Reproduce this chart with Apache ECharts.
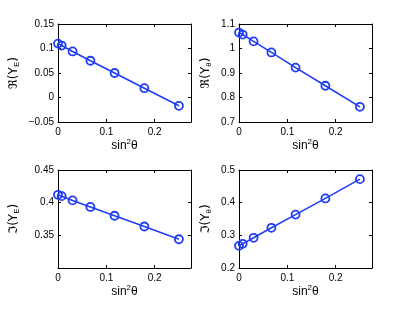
<!DOCTYPE html>
<html><head><meta charset="utf-8">
<script src="https://cdn.jsdelivr.net/npm/echarts@6/dist/echarts.min.js"></script>
<style>html,body{margin:0;padding:0;background:#fff}#c{width:411px;height:309px}</style>
</head><body><div id="c"></div>
<script>
var sin2theta = [0, 0.0076, 0.0302, 0.0670, 0.1170, 0.1786, 0.25];
var reYE = [0.110, 0.106, 0.094, 0.075, 0.050, 0.019, -0.017];
var reYth = [1.065, 1.057, 1.029, 0.984, 0.922, 0.848, 0.762];
var imYE = [0.412, 0.410, 0.4035, 0.3935, 0.380, 0.3635, 0.344];
var imYth = [0.268, 0.274, 0.2925, 0.323, 0.3635, 0.413, 0.472];
var xTicks = [0, 0.1, 0.2];

var panels = [
  {data: reYE, left: 58, top: 24, ymin: -0.05, ymax: 0.15, step: 0.05, pre: 'ℜ', sub: 'E', hide: []},
  {data: reYth, left: 239, top: 24, ymin: 0.7, ymax: 1.1, step: 0.1, pre: 'ℜ', sub: 'θ', hide: []},
  {data: imYE, left: 58, top: 170, ymin: 0.3, ymax: 0.45, step: 0.05, pre: 'ℑ', sub: 'E', hide: [0.3]},
  {data: imYth, left: 239, top: 170, ymin: 0.2, ymax: 0.5, step: 0.1, pre: 'ℑ', sub: 'θ', hide: []}
];
var FONT = 'Liberation Sans';
var BLUE = '#1f3df5';
function fmt(v) {
  var r = Math.round(v * 1000) / 1000;
  return String(r).replace('-', '\u2212');
}
var grids = [], xAxes = [], yAxes = [], series = [];
panels.forEach(function (p, i) {
  grids.push({left: p.left, top: p.top, width: 133, height: 98});
  var baseLine = {show: true, onZero: false, lineStyle: {color: '#000', width: 1}};
  var tick = {show: true, inside: true, length: 3, lineStyle: {color: '#000'}};
  xAxes.push({
    gridIndex: i, type: 'value', min: 0, max: 0.275, interval: 0.1, position: 'bottom',
    axisLine: baseLine, axisTick: tick, splitLine: {show: false},
    axisLabel: {color: '#000', fontFamily: FONT, fontSize: 10, margin: 5,
      formatter: function (v) { return xTicks.some(function (t) { return Math.abs(t - v) < 1e-9; }) ? fmt(v) : ''; }},
    name: '{a|sin}{s|2}{a|θ}', nameLocation: 'middle', nameGap: 14,
    nameTextStyle: {rich: {a: {fontFamily: FONT, fontSize: 12, color: '#000', verticalAlign: 'bottom'},
      s: {fontFamily: FONT, fontSize: 8, color: '#000', verticalAlign: 'top', padding: [0, 0, 6, 0]}}}
  });
  xAxes.push({
    gridIndex: i, type: 'value', min: 0, max: 0.275, interval: 0.1, position: 'top',
    axisLine: baseLine, axisTick: tick, splitLine: {show: false}, axisLabel: {show: false}
  });
  yAxes.push({
    gridIndex: i, type: 'value', min: p.ymin, max: p.ymax, interval: p.step, position: 'left',
    axisLine: baseLine, axisTick: tick, splitLine: {show: false},
    axisLabel: {color: '#000', fontFamily: FONT, fontSize: 10, margin: 4,
      formatter: function (v) { return p.hide.some(function (h) { return Math.abs(h - v) < 1e-9; }) ? '' : fmt(v); }},
    name: '{a|' + p.pre + '(Y}{s|' + p.sub + '}{a|)}', nameLocation: 'middle', nameGap: i % 2 === 0 ? 37 : 26, nameRotate: 90,
    nameTextStyle: {rich: {a: {fontFamily: 'DejaVu Sans', fontSize: 12, color: '#000'},
      s: {fontFamily: FONT, fontSize: 8, color: '#000', padding: [7, 0, 0, 0]}}}
  });
  yAxes.push({
    gridIndex: i, type: 'value', min: p.ymin, max: p.ymax, interval: p.step, position: 'right',
    axisLine: baseLine, axisTick: tick, splitLine: {show: false}, axisLabel: {show: false}
  });
  series.push({
    type: 'line', xAxisIndex: 2 * i, yAxisIndex: 2 * i,
    data: sin2theta.map(function (x, k) { return [x, p.data[k]]; }),
    symbol: 'circle', symbolSize: 8, showSymbol: true,
    lineStyle: {color: BLUE, width: 1.6},
    itemStyle: {color: 'rgba(0,0,0,0)', borderColor: BLUE, borderWidth: 1.8},
    animation: false
  });
});
var chart = echarts.init(document.getElementById('c'), null, {renderer: 'canvas'});
chart.setOption({animation: false, backgroundColor: '#fff', grid: grids, xAxis: xAxes, yAxis: yAxes, series: series});
</script></body></html>
